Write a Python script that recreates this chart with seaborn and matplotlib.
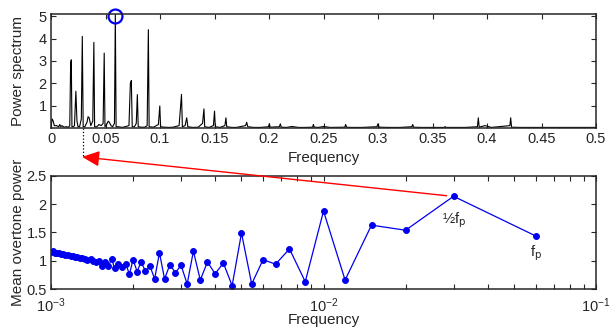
import numpy as np
import seaborn as sns
import matplotlib.pyplot as plt
from matplotlib.ticker import LogLocator, NullFormatter

# power spectrum
spec_freq = [0.000, 0.001, 0.002, 0.003, 0.005, 0.007, 0.008, 0.009, 0.010, 0.012, 0.014, 0.016,
             0.0172, 0.0180, 0.0186, 0.0192, 0.0205, 0.0215, 0.0228, 0.0238, 0.0248, 0.0262,
             0.0278, 0.0287, 0.0295, 0.031, 0.0330, 0.0340, 0.0350, 0.0365, 0.0383, 0.0393,
             0.0400, 0.042, 0.044, 0.0460, 0.0478, 0.0488, 0.0495, 0.051, 0.0525, 0.0535,
             0.0550, 0.0565, 0.0582, 0.0590, 0.0597, 0.062, 0.065, 0.068, 0.0715, 0.0728,
             0.0737, 0.0745, 0.0765, 0.0782, 0.0792, 0.0800, 0.083, 0.086, 0.0882, 0.0893,
             0.0900, 0.094, 0.0985, 0.0998, 0.1005, 0.104, 0.108, 0.112, 0.1175, 0.1197, 0.1205,
             0.1230, 0.1245, 0.1255, 0.130, 0.135, 0.1390, 0.1403, 0.1410, 0.145, 0.1490,
             0.1500, 0.1507, 0.155, 0.1595, 0.1605, 0.1612, 0.166, 0.170, 0.1785, 0.1795, 0.1805,
             0.186, 0.192, 0.1995, 0.2003, 0.2010, 0.2095, 0.2104, 0.2112, 0.216, 0.221, 0.227,
             0.233, 0.2400, 0.2407, 0.2415, 0.245, 0.250, 0.256, 0.2695, 0.2703, 0.2711, 0.275,
             0.285, 0.2990, 0.3000, 0.3010, 0.310, 0.320, 0.3310, 0.3318, 0.3326, 0.340, 0.350,
             0.3610, 0.3615, 0.3622, 0.370, 0.380, 0.3912, 0.3920, 0.3928, 0.398, 0.404, 0.412,
             0.4210, 0.4217, 0.4225, 0.430, 0.440, 0.450, 0.460, 0.470, 0.480, 0.490, 0.500]
spec_power = [0.05, 0.40, 0.30, 0.10, 0.10, 0.05, 0.15, 0.05, 0.10, 0.03, 0.05, 0.03,
              0.10, 2.90, 3.05, 0.05, 0.05, 0.10, 1.64, 0.30, 0.05, 0.05,
              0.40, 4.10, 0.05, 0.05, 0.25, 0.50, 0.45, 0.10, 0.30, 3.83,
              0.05, 0.05, 0.15, 0.10, 0.20, 3.35, 0.05, 0.15, 0.30, 0.25,
              0.10, 0.05, 0.20, 5.08, 0.05, 0.05, 0.02, 0.05, 0.10, 2.00,
              2.12, 0.05, 0.05, 0.20, 1.49, 0.05, 0.03, 0.03, 0.10, 4.40,
              0.05, 0.03, 0.15, 0.98, 0.05, 0.03, 0.02, 0.03, 0.10, 1.50, 0.05,
              0.10, 0.45, 0.05, 0.02, 0.03, 0.20, 0.85, 0.05, 0.02, 0.10,
              0.75, 0.05, 0.02, 0.10, 0.45, 0.05, 0.02, 0.02, 0.10, 0.25, 0.05,
              0.02, 0.02, 0.05, 0.18, 0.03, 0.05, 0.18, 0.03, 0.02, 0.06, 0.02,
              0.02, 0.03, 0.15, 0.03, 0.02, 0.06, 0.02, 0.03, 0.15, 0.03, 0.02,
              0.02, 0.05, 0.18, 0.03, 0.02, 0.02, 0.05, 0.15, 0.03, 0.02, 0.02,
              0.02, 0.06, 0.02, 0.02, 0.02, 0.05, 0.45, 0.03, 0.10, 0.02, 0.06,
              0.10, 0.45, 0.03, 0.02, 0.02, 0.02, 0.02, 0.02, 0.02, 0.02, 0.02]

peak_freq = 0.059
peak_power = 5.0

# mean overtone power vs fundamental frequency (fp / n, n = 1..60)
overtone_freq = [0.06, 0.03, 0.02, 0.015, 0.012, 0.01, 0.00857, 0.0075, 0.00667, 0.006,
                 0.00545, 0.005, 0.00462, 0.00429, 0.004, 0.00375, 0.00353, 0.00333, 0.00316, 0.003,
                 0.00286, 0.00273, 0.00261, 0.0025, 0.0024, 0.00231, 0.00222, 0.00214, 0.00207, 0.002,
                 0.00194, 0.00188, 0.00182, 0.00176, 0.00171, 0.00167, 0.00162, 0.00158, 0.00154, 0.0015,
                 0.00146, 0.00143, 0.0014, 0.00136, 0.00133, 0.0013, 0.00128, 0.00125, 0.00122, 0.0012,
                 0.00118, 0.00115, 0.00113, 0.00111, 0.00109, 0.00107, 0.00105, 0.00103, 0.00102, 0.001]
overtone_power = [1.44, 2.14, 1.54, 1.63, 0.66, 1.88, 0.63, 1.21, 0.94, 1.02,
                  0.59, 1.49, 0.56, 0.96, 0.77, 0.98, 0.66, 1.17, 0.59, 0.92,
                  0.79, 0.93, 0.68, 1.14, 0.68, 0.90, 0.82, 0.98, 0.81, 1.02,
                  0.76, 0.95, 0.89, 0.95, 0.87, 1.03, 0.90, 0.97, 0.90, 0.99,
                  0.98, 1.00, 1.03, 1.02, 1.03, 1.05, 1.05, 1.06, 1.07, 1.08,
                  1.08, 1.11, 1.10, 1.12, 1.12, 1.13, 1.13, 1.14, 1.17, 1.16]

sns.set_style("ticks")
plt.rcParams['font.family'] = ['Liberation Sans', 'DejaVu Sans']
plt.rcParams['font.size'] = 10.5
plt.rcParams['axes.linewidth'] = 1.1

fig = plt.figure(figsize=(6.11, 3.27), dpi=100)
ax1 = fig.add_axes([0.0835, 0.609, 0.892, 0.348])
ax2 = fig.add_axes([0.0835, 0.116, 0.892, 0.346])

# top panel: spectrum
sns.lineplot(x=spec_freq, y=spec_power, ax=ax1, color="black", lw=0.8, sort=False)
ax1.plot(peak_freq, peak_power, 'o', ms=10, mfc="none", mec="#0000ee", mew=1.6, clip_on=False)
ax1.set_xlim(0, 0.5)
ax1.set_ylim(0, 5.1)
ax1.set_xticks(np.arange(0, 0.51, 0.05))
ax1.set_xticklabels(["0", "0.05", "0.1", "0.15", "0.2", "0.25", "0.3", "0.35", "0.4", "0.45", "0.5"])
ax1.set_yticks([1, 2, 3, 4, 5])
ax1.set_xlabel("Frequency", fontsize=11)
ax1.set_ylabel("Power spectrum", fontsize=11)
ax1.xaxis.set_label_coords(0.5, -0.20)
ax1.yaxis.set_label_coords(-0.048, 0.5)

# bottom panel: mean overtone power
sns.lineplot(x=overtone_freq, y=overtone_power, ax=ax2, color="#0000ee", lw=0.9,
             marker="o", ms=4.2, mec="#0000ee", mfc="#0000ee")
ax2.set_xscale("log")
ax2.set_xlim(1e-3, 1e-1)
ax2.set_ylim(0.5, 2.5)
ax2.set_yticks([0.5, 1, 1.5, 2, 2.5])
ax2.set_yticklabels(["0.5", "1", "1.5", "2", "2.5"])
ax2.xaxis.set_major_locator(LogLocator(base=10, numticks=5))
ax2.xaxis.set_minor_locator(LogLocator(base=10, subs=np.arange(2, 10), numticks=20))
ax2.xaxis.set_minor_formatter(NullFormatter())
ax2.set_xlabel("Frequency", fontsize=11)
ax2.set_ylabel("Mean overtone power", fontsize=11)
ax2.xaxis.set_label_coords(0.5, -0.215)
ax2.yaxis.set_label_coords(-0.048, 0.5)

ax2.text(0.0301, 1.72, r"½f$_\mathrm{p}$", ha="center", va="center", fontsize=10.5)
ax2.text(0.06, 1.13, r"f$_\mathrm{p}$", ha="center", va="center", fontsize=10.5)

for ax in (ax1, ax2):
    ax.tick_params(direction="in", top=True, right=True, which="both", length=3.5, width=0.8, pad=3)
    for s in ax.spines.values():
        s.set_visible(True)
ax2.tick_params(axis="x", which="major", pad=5)

# dotted marker and red arrow linking the two panels
ax1.plot([0.029, 0.029], [0, -1.3], ls=":", color="black", lw=0.9, clip_on=False)
ax2.annotate("", xy=(0.0285, -1.3), xycoords=ax1.transData,
             xytext=(0.0283, 2.15), textcoords="data",
             arrowprops=dict(arrowstyle="-|>,head_length=1.0,head_width=0.45",
                             color="red", lw=1.0, shrinkA=0, shrinkB=0),
             annotation_clip=False)

fig.savefig("out.png", dpi=100)
